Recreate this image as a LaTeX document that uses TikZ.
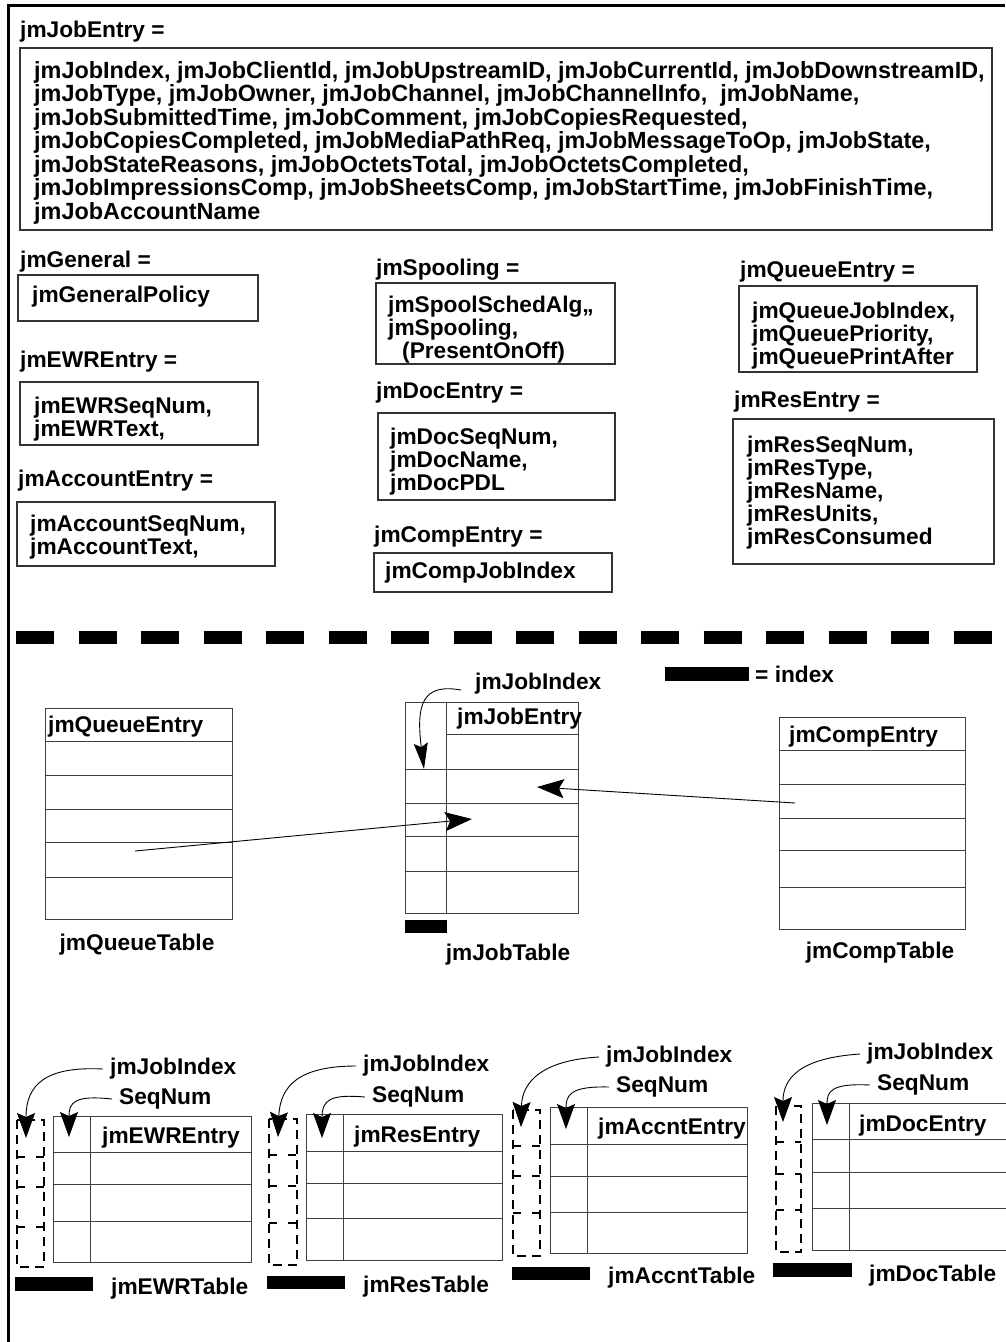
\documentclass[tikz,border=0pt]{standalone}
\usepackage{fontspec}
\setmainfont{Liberation Sans}
\usetikzlibrary{arrows.meta}
\newcommand\fsA{\fontsize{22.7}{23}\selectfont\bfseries}
\newcommand\fsT{\fontsize{23.4}{23.5}\selectfont\bfseries}
\begin{document}
\begin{tikzpicture}[x=1pt,y=-1pt,
  txt/.style={font=\fsA, inner sep=0pt, anchor=west},
  mtxt/.style={font=\fsA, inner sep=0pt, anchor=north west, align=left},
  defbox/.style={draw=black!80, line width=1.1pt},
  tbl/.style={draw=black!75, line width=1pt},
  idxbar/.style={fill=black},
  dbox/.style={draw=black, line width=1.6pt, dash pattern=on 9pt off 6pt},
  dline/.style={draw=black, line width=1.6pt, dash pattern=on 8pt off 11pt},
  ptr/.style={draw=black, line width=0.9pt, -{Stealth[length=25pt,width=18pt,inset=4pt]}},
]
\useasboundingbox (0,0) rectangle (1005,1342);
\fill[white] (0,0) rectangle (1005,1342);
% frame
\draw[line width=3pt] (8.5,1342) -- (8.5,5) -- (1005,5);

% ---------- top definition ----------
\node[txt] (jeLbl) at (20,32) {jmJobEntry =};
\draw[defbox] (20,48) rectangle (992,230);
\node[mtxt, font=\fsT] (jeTxt) at (34,61) {jmJobIndex, jmJobClientId, jmJobUpstreamID, jmJobCurrentId, jmJobDownstreamID,\\
jmJobType, jmJobOwner, jmJobChannel, jmJobChannelInfo,\ \ jmJobName,\\
jmJobSubmittedTime, jmJobComment, jmJobCopiesRequested,\\
jmJobCopiesCompleted, jmJobMediaPathReq, jmJobMessageToOp, jmJobState,\\
jmJobStateReasons, jmJobOctetsTotal, jmJobOctetsCompleted,\\
jmJobImpressionsComp, jmJobSheetsComp, jmJobStartTime, jmJobFinishTime,\\
jmJobAccountName};

% ---------- left column ----------
\node[txt] (genLbl) at (20,262) {jmGeneral =};
\draw[defbox] (18,275) rectangle (258,321);
\node[txt] (genTxt) at (32,297) {jmGeneralPolicy};

\node[txt] (ewrLbl) at (20,362) {jmEWREntry =};
\draw[defbox] (20,382) rectangle (258,445);
\node[mtxt] (ewrTxt) at (34,397) {jmEWRSeqNum,\\jmEWRText,};

\node[txt] (accLbl) at (18,481) {jmAccountEntry =};
\draw[defbox] (17,502) rectangle (275,566);
\node[mtxt] (accTxt) at (30,515) {jmAccountSeqNum,\\jmAccountText,};

% ---------- middle column ----------
\node[txt] (spLbl) at (376,270) {jmSpooling =};
\draw[defbox] (376,283) rectangle (615,364);
\node[mtxt] (spTxt) at (388,296) {jmSpoolSchedAlg,,\\jmSpooling,\\\hspace*{14pt}(PresentOnOff)};

\node[txt] (docLbl) at (376,393) {jmDocEntry =};
\draw[defbox] (378,413) rectangle (615,500);
\node[mtxt] (docTxt) at (390,428) {jmDocSeqNum,\\jmDocName,\\jmDocPDL};

\node[txt] (cmpLbl) at (374,537) {jmCompEntry =};
\draw[defbox] (374,553) rectangle (612,592);
\node[txt] (cmpTxt) at (385,573) {jmCompJobIndex};

% ---------- right column ----------
\node[txt] (quLbl) at (740,272) {jmQueueEntry =};
\draw[defbox] (739,286) rectangle (977,372);
\node[mtxt] (quTxt) at (752,302) {jmQueueJobIndex,\\jmQueuePriority,\\jmQueuePrintAfter};

\node[txt] (resLbl) at (734,402) {jmResEntry =};
\draw[defbox] (733,419) rectangle (994,564);
\node[mtxt] (resTxt) at (747,436) {jmResSeqNum,\\jmResType,\\jmResName,\\jmResUnits,\\jmResConsumed};

% ---------- separator ----------
\draw[line width=13pt, dash pattern=on 38pt off 24.5pt] (16,637.5) -- (1005,637.5);

% legend
\fill[idxbar] (665,667) rectangle (749,681);
\node[txt] (legend) at (755,674) {= index};

% ---------- jmQueueTable ----------
\draw[tbl] (45,708) rectangle (232,919);
\foreach \yy in {741,775,809,842,877} \draw[tbl] (45,\yy) -- (232,\yy);
\node[txt] (qtHead) at (48,727) {jmQueueEntry};
\node[font=\fsA, inner sep=0pt] (qtName) at (137,945) {jmQueueTable};
\coordinate (qSrc) at (135,851);

% ---------- jmJobTable ----------
\draw[tbl] (405,702) rectangle (578,913);
\draw[tbl] (446,702) -- (446,913);
\draw[tbl] (446,734) -- (578,734);
\foreach \yy in {769,803,836,871} \draw[tbl] (405,\yy) -- (578,\yy);
\node[txt] (jtHead) at (457,719) {jmJobEntry};
\fill[idxbar] (405,920) rectangle (447,933);
\node[font=\fsA, inner sep=0pt] (jtName) at (508,955) {jmJobTable};
\node[txt] (jtIdx) at (475,684) {jmJobIndex};
\coordinate (jtIdxTip) at (424,769);
\coordinate (jtQTip) at (472,819);
\coordinate (jtCTip) at (537,787);
\draw[ptr, -{Stealth[length=26pt,width=14pt,inset=4pt]}] ([xshift=-14pt,yshift=-6pt]jtIdx.west) .. controls (422,683) and (416,705) .. (jtIdxTip);

% ---------- jmCompTable ----------
\draw[tbl] (779,717) rectangle (965,929);
\foreach \yy in {750,784,818,850,887} \draw[tbl] (779,\yy) -- (965,\yy);
\node[txt] (ctHead) at (789,737) {jmCompEntry};
\node[font=\fsA, inner sep=0pt] (ctName) at (880,953) {jmCompTable};
\coordinate (cSrc) at (795,803);

\draw[ptr, -{Stealth[length=27pt,width=19pt,inset=5pt]}] (qSrc) -- (jtQTip);
\draw[ptr, -{Stealth[length=27pt,width=19pt,inset=5pt]}] (cSrc) -- (jtCTip);

% ---------- jmEWRTable ----------
\draw[tbl] (53,1116) rectangle (251,1262);
\draw[tbl] (90,1116) -- (90,1262);
\foreach \yy in {1152,1184,1221} \draw[tbl] (53,\yy) -- (251,\yy);
\draw[dbox] (17,1120) rectangle (44,1267);
\foreach \yy in {1157,1187,1227} \draw[dline] (17,\yy) -- (44,\yy);
\fill[idxbar] (15,1277) rectangle (93,1291);
\node[txt] (ewJ) at (110,1069) {jmJobIndex};
\node[txt] (ewS) at (119,1099) {SeqNum};
\node[txt] (ewH) at (102,1138) {jmEWREntry};
\node[txt] (ewN) at (111,1289) {jmEWRTable};
\coordinate (ewJT) at (26,1138);
\coordinate (ewST) at (69,1137);
\draw[ptr] ([xshift=-7pt]ewJ.west) .. controls (45,1066) and (26,1085) .. (ewJT);
\draw[ptr] ([xshift=-7pt]ewS.west) .. controls (75,1095) and (69,1102) .. (ewST);

% ---------- jmResTable ----------
\draw[tbl] (306,1114) rectangle (502,1260);
\draw[tbl] (343,1114) -- (343,1260);
\foreach \yy in {1151,1183,1218} \draw[tbl] (306,\yy) -- (502,\yy);
\draw[dbox] (269,1119) rectangle (297,1265);
\foreach \yy in {1155,1186,1223} \draw[dline] (269,\yy) -- (297,\yy);
\fill[idxbar] (267,1276) rectangle (345,1289);
\node[txt] (rsJ) at (363,1066) {jmJobIndex};
\node[txt] (rsS) at (372,1097) {SeqNum};
\node[txt] (rsH) at (354,1137) {jmResEntry};
\node[txt] (rsN) at (363,1287) {jmResTable};
\coordinate (rsJT) at (278,1137);
\coordinate (rsST) at (322,1138);
\draw[ptr] ([xshift=-7pt]rsJ.west) .. controls (300,1066) and (280,1085) .. (rsJT);
\draw[ptr] ([xshift=-7pt]rsS.west) .. controls (330,1094) and (322,1100) .. (rsST);

% ---------- jmAccntTable ----------
\draw[tbl] (550,1107) rectangle (747,1253);
\draw[tbl] (587,1107) -- (587,1253);
\foreach \yy in {1144,1176,1212} \draw[tbl] (550,\yy) -- (747,\yy);
\draw[dbox] (513,1110) rectangle (540,1256);
\foreach \yy in {1146,1176,1213} \draw[dline] (513,\yy) -- (540,\yy);
\fill[idxbar] (512,1267) rectangle (590,1280);
\node[txt] (acJ) at (606,1057) {jmJobIndex};
\node[txt] (acS) at (616,1087) {SeqNum};
\node[txt] (acH) at (598,1129) {jmAccntEntry};
\node[txt] (acN) at (608,1278) {jmAccntTable};
\coordinate (acJT) at (521,1127);
\coordinate (acST) at (566,1129);
\draw[ptr] ([xshift=-7pt]acJ.west) .. controls (545,1060) and (522,1080) .. (acJT);
\draw[ptr] ([xshift=-7pt]acS.west) .. controls (570,1086) and (566,1095) .. (acST);

% ---------- jmDocTable ----------
\draw[tbl] (812,1103) rectangle (1012,1250);
\draw[tbl] (849,1103) -- (849,1250);
\foreach \yy in {1139,1172,1208} \draw[tbl] (812,\yy) -- (1012,\yy);
\draw[dbox] (776,1106) rectangle (801,1252);
\foreach \yy in {1142,1174,1210} \draw[dline] (776,\yy) -- (801,\yy);
\fill[idxbar] (773,1263) rectangle (852,1277);
\node[txt] (dcJ) at (867,1054) {jmJobIndex};
\node[txt] (dcS) at (877,1085) {SeqNum};
\node[txt] (dcH) at (859,1126) {jmDocEntry};
\node[txt] (dcN) at (869,1276) {jmDocTable};
\coordinate (dcJT) at (783,1122);
\coordinate (dcST) at (827,1125);
\draw[ptr] ([xshift=-7pt]dcJ.west) .. controls (800,1058) and (783,1078) .. (dcJT);
\draw[ptr] ([xshift=-7pt]dcS.west) .. controls (830,1083) and (827,1092) .. (dcST);
\end{tikzpicture}
\end{document}
